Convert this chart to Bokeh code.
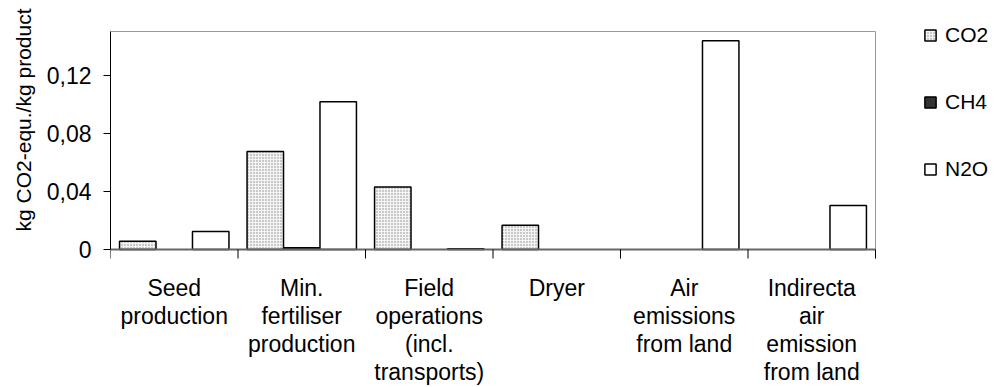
from bokeh.plotting import figure
from bokeh.models import (ColumnDataSource, FixedTicker, Range1d, Legend, LegendItem,
                          Title, CDSView, BooleanFilter, LabelSet)
from bokeh.core.properties import value
from bokeh.transform import dodge
from bokeh.embed import file_html
from bokeh.resources import INLINE

categories = ["Seed\nproduction", "Min.\nfertiliser\nproduction",
              "Field\noperations\n(incl.\ntransports)", "Dryer",
              "Air\nemissions\nfrom land", "Indirecta\nair\nemission\nfrom land"]
co2 = [0.0057, 0.0674, 0.0430, 0.0166, 0.0, 0.0]
ch4 = [0.0, 0.0012, 0.0, 0.0, 0.0, 0.0]
n2o = [0.0124, 0.1016, 0.0006, 0.0, 0.1437, 0.0303]
series_names = ["CO2", "CH4", "N2O"]
y_ticks = [0, 0.04, 0.08, 0.12]
y_tick_labels = ["0", "0,04", "0,08", "0,12"]
Y_MAX = 0.15

FONT = "Liberation Sans"
N = len(categories)
xpos = [i + 0.5 for i in range(N)]
src = ColumnDataSource(dict(x=xpos, co2=co2, ch4=ch4, n2o=n2o))

# layout (canvas pixels)
CW, CH = 995, 387
LEFT, RIGHT_AX, TOP_AX, BASE = 110, 875, 31, 249
px_x = (RIGHT_AX - LEFT) / N
px_y = (BASE - TOP_AX) / Y_MAX
x_end = (CW - LEFT) / px_x
y_end = Y_MAX + TOP_AX / px_y
y_start = -(CH - BASE) / px_y

p = figure(width=CW, height=CH, output_backend="svg", toolbar_location=None,
           x_range=Range1d(0, x_end), y_range=Range1d(y_start, y_end),
           x_axis_location=None,
           min_border_left=LEFT, min_border_right=0, min_border_top=0,
           min_border_bottom=0)
for g in p.grid:
    g.visible = False
p.outline_line_color = None
p.background_fill_color = "white"
p.border_fill_color = "white"

# plot-area border (top and right)
p.segment(x0=[0, N], y0=[Y_MAX, 0], x1=[N, N], y1=[Y_MAX, Y_MAX],
          line_color="#999999", line_width=1)

W = 0.286
styles = [
    dict(fill_color="#f4f4f4", hatch_pattern="dot", hatch_color="#888888",
         hatch_scale=3, hatch_weight=1),
    dict(fill_color="#333333"),
    dict(fill_color="white"),
]
renderers = []
for col, off, st in zip(["co2", "ch4", "n2o"], [-W, 0, W], styles):
    view = CDSView(filter=BooleanFilter([v > 0 for v in src.data[col]]))
    r = p.vbar(x=dodge("x", off), top=col, width=W, source=src, view=view,
               line_color="black", line_width=1.5, **st)
    renderers.append(r)

# category axis at y = 0: line, boundary ticks, labels
TICK = 9 / px_y
bounds = list(range(N + 1))
p.segment(x0=[0], y0=[0], x1=[N], y1=[0], line_color="#666666", line_width=2)
p.segment(x0=bounds, y0=[0] * len(bounds), x1=bounds, y1=[-TICK] * len(bounds),
          line_color="black", line_width=1)

lx, lt, lo = [], [], []
for xc, cat in zip(xpos, categories):
    for j, line in enumerate(cat.split("\n")):
        lx.append(xc)
        lt.append(line)
        lo.append(-(38 + j * 28.3))
lab_src = ColumnDataSource(dict(x=lx, y=[0.0] * len(lx), text=lt, off=lo))
labels = LabelSet(x="x", y="y", text="text", source=lab_src, y_offset="off",
                  text_align="center", text_baseline="middle",
                  text_font=value(FONT), text_font_size=value("23px"),
                  text_color="black")
p.add_layout(labels)

# y axis
ya = p.yaxis[0]
ya.bounds = (0, Y_MAX)
ya.ticker = FixedTicker(ticks=y_ticks, minor_ticks=[])
ya.major_label_overrides = {t: l for t, l in zip(y_ticks, y_tick_labels)}
ya.major_tick_out = 7
ya.major_tick_in = 0
ya.major_tick_line_color = "black"
ya.minor_tick_line_color = None
ya.axis_line_color = "black"
ya.major_label_text_font = FONT
ya.major_label_text_font_size = "23px"
ya.major_label_text_color = "black"
ya.major_label_standoff = 12

ytitle = Title(text="kg CO2-equ./kg product", align="right", offset=8,
               text_font=FONT, text_font_size="21px", text_font_style="normal",
               text_color="black", standoff=18)
p.add_layout(ytitle, "left")

legend = Legend(items=[LegendItem(label=n, renderers=[r]) for n, r in zip(series_names, renderers)],
                location=(813, 206), orientation="vertical",
                glyph_width=14, glyph_height=14, label_height=25, spacing=42,
                label_standoff=8, padding=0, margin=0,
                border_line_color=None, background_fill_alpha=0,
                label_text_font=FONT, label_text_font_size="21px",
                label_text_color="black")
p.add_layout(legend)

open("out.html", "w").write(file_html(p, INLINE))
